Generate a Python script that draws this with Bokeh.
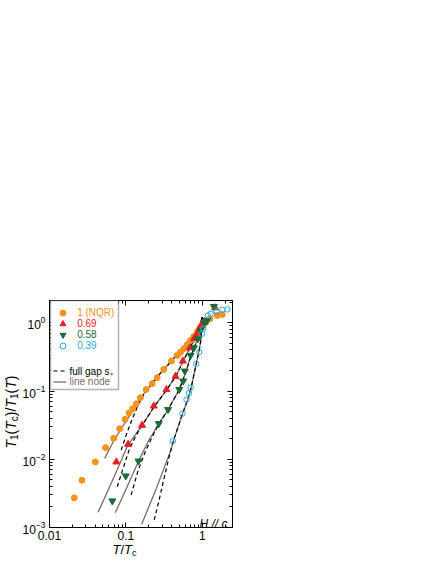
import math
from bokeh.plotting import figure
from bokeh.models import (LogAxis, FixedTicker, Legend, LegendItem, Label,
                          BoxAnnotation, CustomJSTickFormatter, Range1d)
from bokeh.embed import file_html
from bokeh.resources import INLINE

# ---------------- data ----------------
nqr_x = [0.0211, 0.0266, 0.0398, 0.0543, 0.0692, 0.083, 0.0975, 0.110, 0.123, 0.137,
         0.155, 0.184, 0.221, 0.257, 0.314, 0.395, 0.47, 0.52, 0.574, 0.635, 0.703,
         0.778, 0.86, 0.93, 1.0, 1.106, 1.26, 1.57, 1.83]
nqr_y = [0.00272, 0.00493, 0.00914, 0.0148, 0.0203, 0.0281, 0.0385, 0.0477, 0.055, 0.065,
         0.080, 0.105, 0.128, 0.157, 0.207, 0.275, 0.333, 0.372, 0.417, 0.476, 0.551,
         0.63, 0.73, 0.836, 0.93, 1.02, 1.14, 1.28, 1.32]

h069_x = [0.075, 0.107, 0.163, 0.232, 0.34, 0.447, 0.557, 0.689, 0.778, 0.86, 0.914,
          0.95, 1.0, 1.07, 1.47]
h069_y = [0.00914, 0.0166, 0.0315, 0.0603, 0.105, 0.164, 0.275, 0.431, 0.583, 0.69, 0.79,
          0.88, 0.97, 1.05, 1.66]

h058_x = [0.0665, 0.0995, 0.146, 0.27, 0.357, 0.50, 0.563, 0.592, 0.703, 0.778, 0.877,
          0.95, 1.07, 1.16, 1.42]
h058_y = [0.00245, 0.0057, 0.0094, 0.0333, 0.0535, 0.105, 0.14, 0.196, 0.333, 0.43, 0.583,
          0.77, 0.97, 1.08, 1.73]

h039_x = [0.412, 0.55, 0.622, 0.668, 0.703, 0.834, 0.914, 0.99, 1.03, 1.19, 1.29, 1.54,
          1.83, 2.13]
h039_y = [0.0185, 0.0466, 0.0746, 0.0935, 0.112, 0.251, 0.372, 0.69, 0.82, 1.28, 1.35, 1.48,
          1.55, 1.57]

# model curves
nqr_node_x = [0.0527, 0.07, 0.1, 0.15, 0.25, 0.4, 0.6, 0.8, 0.93, 1.0]
nqr_node_y = [0.0103, 0.019, 0.036, 0.075, 0.155, 0.28, 0.48, 0.70, 0.90, 1.2]
nqr_gap_x = [0.0869, 0.1, 0.12, 0.146, 0.18, 0.25, 0.4, 0.6, 0.8, 0.93, 1.0]
nqr_gap_y = [0.0136, 0.022, 0.038, 0.064, 0.098, 0.155, 0.28, 0.48, 0.70, 0.90, 1.2]

h069_node_x = [0.0433, 0.07, 0.106, 0.163, 0.232, 0.34, 0.45, 0.56, 0.69, 0.86, 1.0]
h069_node_y = [0.00167, 0.0055, 0.016, 0.0315, 0.058, 0.103, 0.165, 0.27, 0.43, 0.69, 1.2]
h069_gap_x = [0.0771, 0.09, 0.11, 0.135, 0.163, 0.232, 0.34, 0.45, 0.56, 0.69, 0.86, 1.0]
h069_gap_y = [0.00395, 0.0068, 0.0136, 0.022, 0.031, 0.058, 0.103, 0.165, 0.27, 0.43, 0.69, 1.2]

h058_node_x = [0.0726, 0.1, 0.153, 0.2, 0.27, 0.357, 0.5, 0.6, 0.7, 0.85, 1.0]
h058_node_y = [0.00164, 0.0036, 0.0104, 0.019, 0.033, 0.0535, 0.105, 0.18, 0.31, 0.55, 1.2]
h058_gap_x = [0.117, 0.145, 0.18, 0.22, 0.27, 0.357, 0.5, 0.6, 0.7, 0.85, 1.0]
h058_gap_y = [0.003, 0.0069, 0.013, 0.021, 0.033, 0.0535, 0.105, 0.18, 0.31, 0.55, 1.2]

h039_node_x = [0.161, 0.25, 0.388, 0.415, 0.55, 0.65, 0.72, 0.834, 0.914, 0.97, 1.0]
h039_node_y = [0.00112, 0.0037, 0.0136, 0.018, 0.046, 0.076, 0.115, 0.25, 0.40, 0.6, 1.2]
h039_gap_x = [0.235, 0.27, 0.31, 0.368, 0.415, 0.55, 0.65, 0.72, 0.834, 0.914, 0.97, 1.0]
h039_gap_y = [0.00129, 0.0024, 0.0048, 0.0108, 0.018, 0.046, 0.076, 0.115, 0.25, 0.40, 0.6, 1.2]

series_labels = ["1 (NQR)", "0.69", "0.58", "0.39"]
model_labels = ["full gap s\u208a", "line node"]

x_ticks = [0.01, 0.1, 1]
x_tick_labels = ["0.01", "0.1", "1"]
x_minor = [0.02, 0.03, 0.04, 0.05, 0.06, 0.07, 0.08, 0.09,
           0.2, 0.3, 0.4, 0.5, 0.6, 0.7, 0.8, 0.9, 2]
y_ticks = [0.001, 0.01, 0.1, 1]
y_minor = [0.002, 0.003, 0.004, 0.005, 0.006, 0.007, 0.008, 0.009,
           0.02, 0.03, 0.04, 0.05, 0.06, 0.07, 0.08, 0.09,
           0.2, 0.3, 0.4, 0.5, 0.6, 0.7, 0.8, 0.9, 2]

# ---------------- style ----------------
ORANGE = "#F7931E"
RED = "#EE1C25"
GREEN = "#1B6B36"
CYAN = "#27A9E1"
NODE = "#7D6B67"
FONT = "Liberation Sans"

X0, X1 = 0.01, 2.49
Y0, Y1 = 0.001, 2.12
FW, FH = 183, 227
p = figure(x_axis_type="log", y_axis_type="log",
           x_range=Range1d(X0, X1), y_range=Range1d(Y0, Y1),
           frame_width=FW, frame_height=FH,
           min_border_left=49, min_border_top=300, min_border_right=10,
           min_border_bottom=35, output_backend="svg", toolbar_location=None)
p.xgrid.visible = False
p.ygrid.visible = False
p.outline_line_color = "black"
p.background_fill_color = "white"


def style_axis(ax):
    ax.major_tick_in = 5
    ax.major_tick_out = 0
    ax.minor_tick_in = 3
    ax.minor_tick_out = 0
    ax.axis_line_color = "black"
    ax.major_tick_line_color = "black"
    ax.minor_tick_line_color = "black"
    ax.major_label_text_font = FONT
    ax.major_label_text_font_size = "12px"
    ax.major_label_text_color = "black"


xt = FixedTicker(ticks=x_ticks, minor_ticks=x_minor)
yt = FixedTicker(ticks=y_ticks, minor_ticks=y_minor)
p.xaxis.ticker = xt
p.yaxis.ticker = yt
p.xaxis.major_label_overrides = dict(zip(x_ticks, x_tick_labels))
for ax in p.xaxis + p.yaxis:
    style_axis(ax)
p.xaxis.major_label_standoff = 3
p.yaxis.major_label_standoff = 4

blank = CustomJSTickFormatter(code="return ''")
top_ax = LogAxis(ticker=xt, formatter=blank)
right_ax = LogAxis(ticker=yt, formatter=blank)
for ax in (top_ax, right_ax):
    style_axis(ax)
    ax.major_label_standoff = 0
p.add_layout(top_ax, "above")
p.add_layout(right_ax, "right")

# ---------------- curves ----------------
node_sets = [(nqr_node_x, nqr_node_y), (h069_node_x, h069_node_y),
             (h058_node_x, h058_node_y), (h039_node_x, h039_node_y)]
gap_sets = [(nqr_gap_x, nqr_gap_y), (h069_gap_x, h069_gap_y),
            (h058_gap_x, h058_gap_y), (h039_gap_x, h039_gap_y)]
node_r = [p.line(x, y, line_color=NODE, line_width=1.3) for x, y in node_sets]
gap_r = [p.line(x, y, line_color="black", line_width=1.2, line_dash="4 3") for x, y in gap_sets]

# ---------------- points ----------------
r_nqr = p.scatter(nqr_x, nqr_y, marker="circle", size=6, fill_color=ORANGE, line_color=ORANGE)
r_069 = p.scatter(h069_x, h069_y, marker="triangle", size=7, fill_color=RED, line_color=RED)
r_058 = p.scatter(h058_x, h058_y, marker="inverted_triangle", size=7, fill_color=GREEN, line_color=GREEN)
r_039 = p.scatter(h039_x, h039_y, marker="circle", size=5.5, fill_color=None, line_color=CYAN, line_width=1)

# ---------------- legend ----------------
box = BoxAnnotation(left=1, right=69, top=FH, bottom=FH - 89,
                    left_units="screen", right_units="screen",
                    top_units="screen", bottom_units="screen",
                    fill_color="white", fill_alpha=1, line_color="black", line_width=1.5,
                    level="annotation")
p.add_layout(box)

leg_specs = [
    (r_nqr, series_labels[0], ORANGE, 312.3, True),
    (r_069, series_labels[1], RED, 323.7, True),
    (r_058, series_labels[2], GREEN, 334.5, True),
    (r_039, series_labels[3], CYAN, 345.0, True),
    (gap_r[0], model_labels[0], "black", 370.5, False),
    (node_r[0], model_labels[1], NODE, 381.7, False),
]
FRAME_TOP = 300
for r, lab, col, cy, is_marker in leg_specs:
    gw = 15 if is_marker else 13
    lx = 6.2 if is_marker else 3.5
    leg = Legend(items=[LegendItem(label=lab, renderers=[r])],
                 location=(lx, FH - (cy - FRAME_TOP) - 7.5),
                 padding=0, margin=0, spacing=0,
                 glyph_width=gw, glyph_height=15, label_height=15,
                 label_standoff=7 if is_marker else 4,
                 label_text_font=FONT, label_text_font_size="10px",
                 label_text_color=col, label_text_baseline="middle",
                 border_line_color=None, background_fill_alpha=0)
    p.add_layout(leg)

# ---------------- axis titles (composite, with subscripts) ----------------
# Annotations in the central frame are clipped, so the title pieces live in the
# roomy top side panel; their vertical position is given through the y scale.
W = {"T": 0.611, "(": 0.333, ")": 0.333, "/": 0.278, "1": 0.556, "c": 0.5}
LY0, LY1 = math.log10(Y0), math.log10(Y1)


def run_width(s, size):
    return sum(W[ch] for ch in s) * size


def y_of(px_from_bottom):
    return 10 ** (LY0 + px_from_bottom / FH * (LY1 - LY0))


def make_title(pieces, x0, y0, vertical):
    out = []
    pos = 0.0
    for text, size, italic, sub in pieces:
        shift = 3.2 if sub else 0.0
        if vertical:
            x, yy, ang = x0 + shift, y0 + pos, math.pi / 2
        else:
            x, yy, ang = x0 + pos, y0 - shift, 0
        out.append(Label(x=x, y=y_of(yy), x_units="screen", y_units="data", text=text,
                         angle=ang, text_font=FONT, text_font_size=f"{size}px",
                         text_font_style="italic" if italic else "normal",
                         text_align="left", text_baseline="alphabetic",
                         text_color="black"))
        pos += run_width(text, size)
    return out


MAIN, SUB = 14, 10
y_title = [("T", MAIN, True, False), ("1", SUB, False, True), ("(", MAIN, False, False),
           ("T", MAIN, True, False), ("c", SUB, False, True), (")/", MAIN, False, False),
           ("T", MAIN, True, False), ("1", SUB, False, True), ("(", MAIN, False, False),
           ("T", MAIN, True, False), (")", MAIN, False, False)]
x_title = [("T", 13, True, False), ("/", 13, False, False), ("T", 13, True, False),
           ("c", 9, False, True)]

title_labels = make_title(y_title, -38.3, 79, True) + make_title(x_title, 63, -22.3, False)
p.above = list(p.above) + title_labels

p.add_layout(Label(x=178, y=3.7, x_units="screen", y_units="screen", text="H // c",
                   text_font=FONT, text_font_size="12px", text_font_style="italic",
                   text_align="right", text_baseline="alphabetic", text_color="black"))

open("out.html", "w").write(file_html(p, INLINE))
